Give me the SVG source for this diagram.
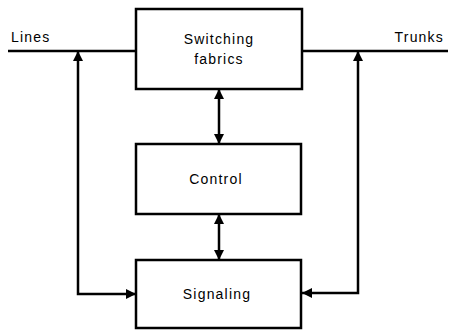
<svg xmlns="http://www.w3.org/2000/svg" width="455" height="330" viewBox="0 0 455 330">
<defs>
<marker id="ah" viewBox="0 0 10 10" refX="10" refY="5" markerWidth="4" markerHeight="4" orient="auto-start-reverse" markerUnits="strokeWidth">
<path d="M0,0 L10,5 L0,10 Z" fill="#000"/>
</marker>
<style>
.box{fill:#fff;stroke:#000;stroke-width:2.5}
.ln{fill:none;stroke:#000;stroke-width:2.5}
text{font-family:"Liberation Sans",Arial,sans-serif;font-size:14px;letter-spacing:1.2px;fill:#000}
.c{text-anchor:middle}
</style>
</defs>
<rect width="455" height="330" fill="#fff"/>
<g id="connectors">
<line class="ln" x1="8" y1="51" x2="136" y2="51"/>
<line class="ln" x1="302" y1="51" x2="448" y2="51"/>
<polyline class="ln" points="78,51 78,294 136,294" marker-start="url(#ah)" marker-end="url(#ah)"/>
<polyline class="ln" points="358,51 358,293 302,293" marker-start="url(#ah)" marker-end="url(#ah)"/>
<line class="ln" x1="219" y1="89" x2="219" y2="144" marker-start="url(#ah)" marker-end="url(#ah)"/>
<line class="ln" x1="219" y1="214" x2="219" y2="260" marker-start="url(#ah)" marker-end="url(#ah)"/>
</g>
<g id="switching">
<rect class="box" x="136" y="9" width="166" height="80"/>
<text class="c" x="219" y="44">Switching</text>
<text class="c" x="219" y="64">fabrics</text>
</g>
<g id="control">
<rect class="box" x="136" y="144" width="165" height="70"/>
<text class="c" x="216" y="184">Control</text>
</g>
<g id="signaling">
<rect class="box" x="136" y="260" width="165" height="68"/>
<text class="c" x="217" y="299">Signaling</text>
</g>
<g id="labels">
<text x="11" y="42">Lines</text>
<text x="444" y="42" text-anchor="end">Trunks</text>
</g>
</svg>
